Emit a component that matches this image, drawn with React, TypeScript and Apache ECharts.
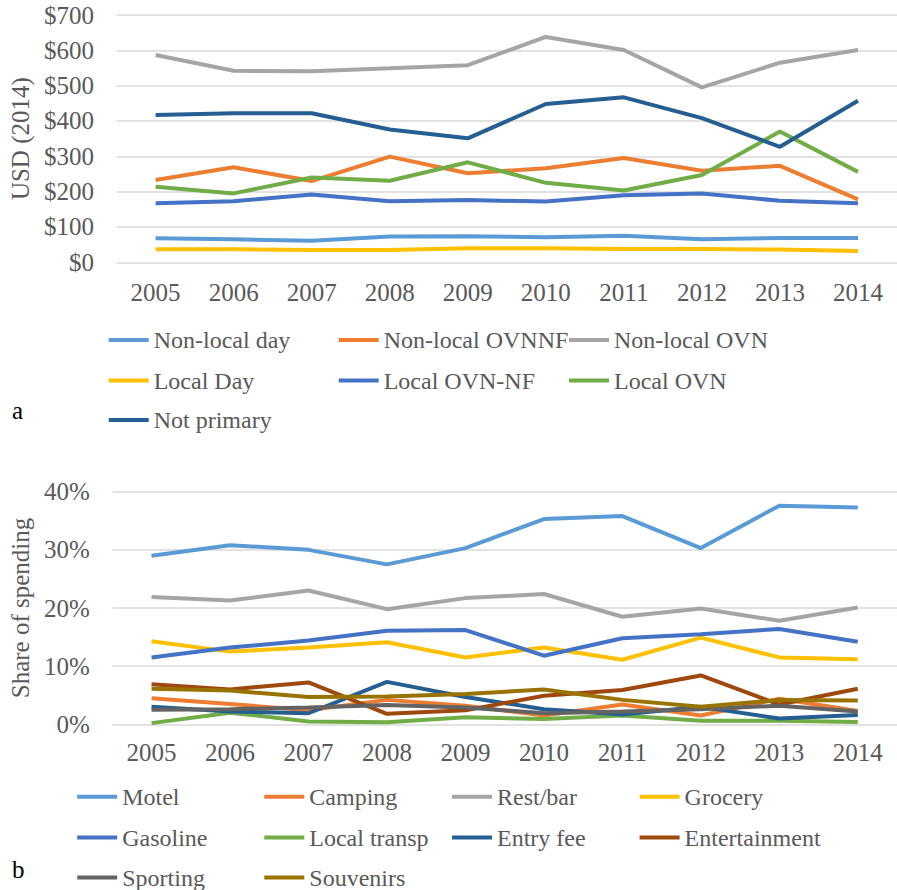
import React, { useEffect, useRef } from "react";
import * as echarts from "echarts";

const years = ["2005", "2006", "2007", "2008", "2009", "2010", "2011", "2012", "2013", "2014"];

// Panel a: USD (2014)
const nonLocalDay = [68, 65, 61, 73, 74, 71, 75, 65, 69, 69];
const nonLocalOVNNF = [233, 269, 230, 299, 252, 266, 295, 259, 273, 178];
const nonLocalOVN = [587, 542, 541, 549, 558, 638, 601, 495, 565, 601];
const localDay = [37, 37, 35, 35, 40, 40, 38, 38, 36, 32];
const localOVNNF = [167, 173, 192, 173, 176, 172, 190, 195, 174, 167];
const localOVN = [214, 195, 240, 231, 283, 225, 203, 247, 370, 256];
const notPrimary = [417, 422, 422, 376, 351, 448, 467, 408, 327, 457];

// Panel b: share of spending (%)
const motel = [29.0, 30.8, 30.0, 27.5, 30.3, 35.3, 35.8, 30.3, 37.6, 37.3];
const camping = [4.5, 3.5, 2.4, 4.2, 3.2, 1.5, 3.4, 1.5, 4.4, 2.3];
const restBar = [21.9, 21.3, 23.0, 19.8, 21.7, 22.4, 18.5, 19.9, 17.8, 20.1];
const grocery = [14.3, 12.5, 13.2, 14.1, 11.5, 13.2, 11.1, 14.9, 11.5, 11.2];
const gasoline = [11.5, 13.2, 14.4, 16.1, 16.2, 11.8, 14.8, 15.5, 16.4, 14.2];
const localTransp = [0.2, 2.0, 0.5, 0.35, 1.2, 0.9, 1.5, 0.6, 0.6, 0.4];
const entryFee = [3.0, 2.2, 1.9, 7.3, 4.7, 2.6, 1.7, 3.0, 1.0, 1.6];
const entertainment = [6.9, 6.0, 7.2, 1.8, 2.4, 4.9, 5.9, 8.4, 3.4, 6.1];
const sporting = [2.5, 2.6, 2.9, 3.3, 2.9, 1.9, 2.2, 2.6, 3.2, 2.2];
const souvenirs = [6.1, 5.8, 4.7, 4.8, 5.2, 6.0, 4.2, 3.0, 4.2, 4.1];

// Legend order (row-major, as in the reference)
const legendA = ["Non-local day", "Non-local OVNNF", "Non-local OVN", "Local Day", "Local OVN-NF", "Local OVN", "Not primary"];
const legendB = ["Motel", "Camping", "Rest/bar", "Grocery", "Gasoline", "Local transp", "Entry fee", "Entertainment", "Sporting", "Souvenirs"];

const topTicks = [0, 700, 100];
const bottomTicks = [0, 40, 10];

const FONT = "Liberation Serif";
const FS = 25;
const TXT = "#595959";
const GRID = "#d9d9d9";

export default function App() {
  const ref = useRef<HTMLDivElement>(null);
  useEffect(() => {
    if (!ref.current) return;
    const chart = echarts.init(ref.current, undefined, { renderer: "svg" });

    const mk = (name: string, data: number[], color: string, idx: number) => ({
      type: "line",
      name,
      data,
      xAxisIndex: idx,
      yAxisIndex: idx,
      symbol: "none",
      itemStyle: { color },
      lineStyle: { color, width: 4 },
    });

    const legendItem = (name: string, left: number, centerY: number) => ({
      orient: "horizontal",
      padding: 0,
      itemWidth: 40,
      itemHeight: 4,
      icon: "rect",
      left,
      top: centerY - 12,
      data: [name],
      textStyle: { fontFamily: FONT, fontSize: 24, color: TXT },
    });

    const legends: any[] = [];
    const colsA = [108.7, 338.7, 569];
    const rowsA = [340, 380.5, 420];
    legendA.forEach((n, i) => legends.push(legendItem(n, colsA[i % 3], rowsA[Math.floor(i / 3)])));
    const colsB = [77.2, 264.3, 452, 639.6];
    const rowsB = [796.7, 837.5, 877.5];
    legendB.forEach((n, i) => legends.push(legendItem(n, colsB[i % 4], rowsB[Math.floor(i / 4)])));

    const xAx = (gridIndex: number, margin: number) => ({
      type: "category",
      gridIndex,
      data: years,
      boundaryGap: true,
      axisLine: { show: false },
      axisTick: { show: false },
      axisLabel: { fontFamily: FONT, fontSize: FS, color: TXT, margin },
    });

    chart.setOption({
      animation: false,
      backgroundColor: "#ffffff",
      grid: [
        { left: 108.7, top: 15, width: 792.7, height: 247.3 },
        { left: 104.3, top: 491.7, width: 794, height: 232.6 },
      ],
      xAxis: [xAx(0, 18), xAx(1, 16)],
      yAxis: [
        {
          type: "value",
          gridIndex: 0,
          min: topTicks[0],
          max: topTicks[1],
          interval: topTicks[2],
          name: "USD (2014)",
          nameLocation: "middle",
          nameGap: 79,
          nameTextStyle: { fontFamily: FONT, fontSize: FS, color: TXT },
          axisLabel: { fontFamily: FONT, fontSize: FS, color: TXT, margin: 22.7, formatter: "${value}" },
          splitLine: { lineStyle: { color: GRID, width: 1.5 } },
          axisLine: { show: false },
          axisTick: { show: false },
        },
        {
          type: "value",
          gridIndex: 1,
          min: bottomTicks[0],
          max: bottomTicks[1],
          interval: bottomTicks[2],
          name: "Share of spending",
          nameLocation: "middle",
          nameGap: 74,
          nameTextStyle: { fontFamily: FONT, fontSize: FS, color: TXT },
          axisLabel: { fontFamily: FONT, fontSize: FS, color: TXT, margin: 22.6, formatter: "{value}%" },
          splitLine: { lineStyle: { color: GRID, width: 1.5 } },
          axisLine: { show: false },
          axisTick: { show: false },
        },
      ],
      legend: legends,
      graphic: [
        { type: "text", left: 12, top: 398, style: { text: "a", font: `25px '${FONT}'`, fill: "#000" } },
        { type: "text", left: 12, top: 857, style: { text: "b", font: `25px '${FONT}'`, fill: "#000" } },
      ],
      series: [
        mk("Non-local day", nonLocalDay, "#5B9BD5", 0),
        mk("Non-local OVNNF", nonLocalOVNNF, "#ED7D31", 0),
        mk("Non-local OVN", nonLocalOVN, "#A5A5A5", 0),
        mk("Local Day", localDay, "#FFC000", 0),
        mk("Local OVN-NF", localOVNNF, "#4472C4", 0),
        mk("Local OVN", localOVN, "#70AD47", 0),
        mk("Not primary", notPrimary, "#255E91", 0),
        mk("Motel", motel, "#5B9BD5", 1),
        mk("Camping", camping, "#ED7D31", 1),
        mk("Rest/bar", restBar, "#A5A5A5", 1),
        mk("Grocery", grocery, "#FFC000", 1),
        mk("Gasoline", gasoline, "#4472C4", 1),
        mk("Local transp", localTransp, "#70AD47", 1),
        mk("Entry fee", entryFee, "#255E91", 1),
        mk("Entertainment", entertainment, "#9E480E", 1),
        mk("Sporting", sporting, "#636363", 1),
        mk("Souvenirs", souvenirs, "#997300", 1),
      ],
    });
    return () => chart.dispose();
  }, []);
  return <div ref={ref} style={{ position: "absolute", left: 0, top: 0, width: 897, height: 890 }} />;
}
